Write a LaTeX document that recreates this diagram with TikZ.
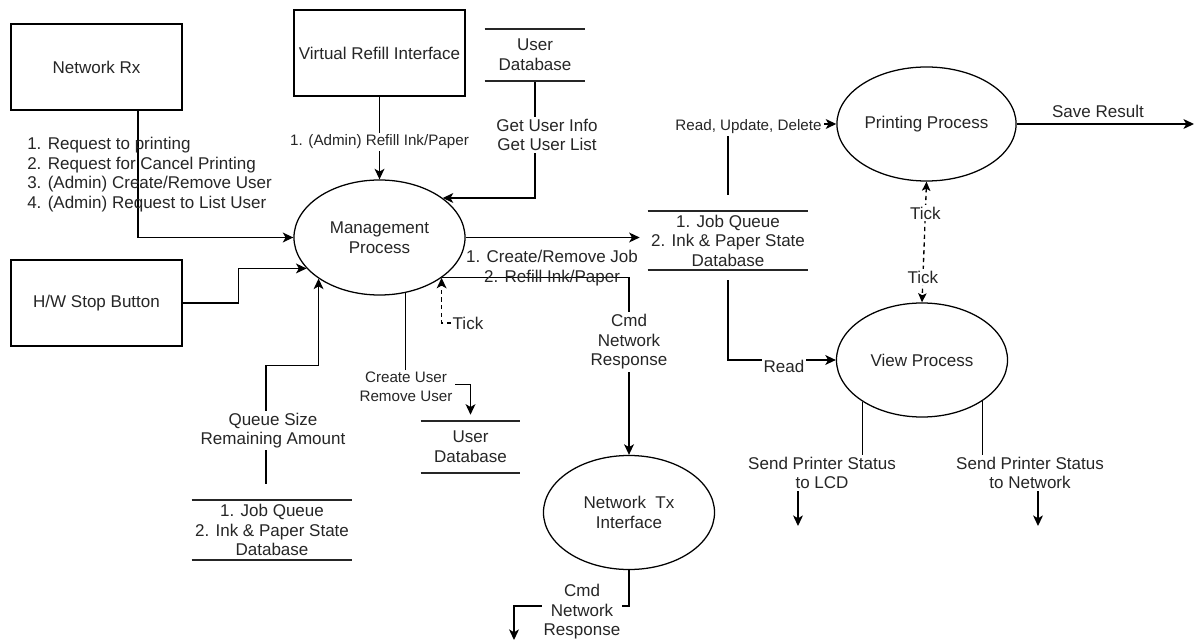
\documentclass[tikz,border=0pt]{standalone}
\usepackage{fontspec}
\setmainfont{Liberation Sans}
\usetikzlibrary{arrows.meta,shapes.geometric,calc,backgrounds}

\begin{document}
\begin{tikzpicture}[
  x=0.025cm, y=-0.025cm,
  txt/.style={font=\fontsize{12.1}{13.9}\selectfont, text=black!85},
  small/.style={font=\fontsize{10.8}{13.7}\selectfont},
  extern/.style={
    rectangle, draw=black, line width=0.9pt, inner xsep=2pt,
    minimum width=4.275cm, minimum height=2.15cm, txt
  },
  proc/.style={
    ellipse, draw=black, line width=0.9pt, inner sep=1pt,
    minimum width=4.275cm, minimum height=2.85cm, align=center, txt
  },
  store/.style={minimum height=1.3cm, inner sep=0pt, align=center, txt},
  dbline/.style={line width=1.7pt, black!85},
  flow/.style={-{Stealth[length=7.5pt,width=7pt,inset=2pt]}, line width=0.95pt},
  tickflow/.style={flow, dash pattern=on 3pt off 2.5pt},
  tickboth/.style={tickflow, {Stealth[length=6.5pt,width=6pt,inset=1.5pt]}-{Stealth[length=6.5pt,width=6pt,inset=1.5pt]}},
  lbl/.style={txt, align=center, inner sep=1.5pt},
  cut/.style={lbl, fill=white}
]

% === External entities ===
\node[extern] (nrx) at (96.5,67) {Network Rx};
\node[extern] (vri) at (379.5,53) {Virtual Refill Interface};
\node[extern] (hw) at (96.5,303) {H/W Stop Button};

% === Processes ===
\node[proc, minimum height=2.875cm] (mgmt) at (379.5,237.5) {Management\\Process};
\node[proc] (pp) at (926.5,124) {Printing Process};
\node[proc] (vp) at (922,360) {View Process};
\node[proc] (ntx) at (629,512.5) {Network~~Tx\\Interface};

% === Data stores ===
\node[store, minimum width=2.5cm] (udb) at (535,55) {User\\Database};
\node[store, minimum width=4cm, minimum height=1.475cm] (jq) at (728,240.5)
  {1. Job Queue\\2. Ink \& Paper State\\Database};
\node[store, minimum width=2.475cm] (udb2) at (470.5,447) {User\\Database};
\node[store, minimum width=4cm, minimum height=1.5cm] (qdb) at (272,530)
  {1. Job Queue\\2. Ink \& Paper State\\Database};

\foreach \s in {udb,jq,udb2,qdb}
  \draw[dbline] (\s.north west) -- (\s.north east) (\s.south west) -- (\s.south east);

% === Flow labels ===
\node[txt, align=left, anchor=west, inner sep=0pt] (rxlbl) at (27,174.5)
  {1. Request to printing\\2. Request for Cancel Printing\\3. (Admin) Create/Remove User\\4. (Admin) Request to List User};
\node[cut, small] (refill) at (379.5,142) {1. (Admin) Refill Ink/Paper};
\node[cut] (getinfo) at (547,135) {Get User Info\\Get User List};
\node[lbl] (jobs) at (552,268) {1. Create/Remove Job\\2. Refill Ink/Paper};
\node[cut] (cmd1) at (629,342) {Cmd\\Network\\Response};
\node[lbl, inner sep=1pt] (tick1) at (468,323) {Tick};
\node[cut, small] (cuser) at (406,387) {Create User\\Remove User};
\node[cut] (qsize) at (273,430.5) {Queue Size\\Remaining Amount};
\node[cut, small] (rud) at (748.5,127) {Read, Update, Delete};
\node[cut] (read) at (784,366) {Read};
\node[lbl] (save) at (1098,111) {Save Result};
\node[lbl] (lcd) at (822,473) {Send Printer Status\\to LCD};
\node[lbl] (netst) at (1030,473) {Send Printer Status\\to Network};
\node[cut] (cmd2) at (582,612) {Cmd\\Network\\Response};

% === Free ends ===
\coordinate (saveout) at (1194,124);
\coordinate (lcdout) at (798,526);
\coordinate (netout) at (1038,526);
\coordinate (cmdout) at (514,640);

% === Flows ===
\begin{scope}[on background layer]
\fill[white] (0,0) rectangle (1195,642);
\draw[flow] ([xshift=1.04cm]nrx.south) |- (mgmt.west);
\draw[flow] (vri.south) -- (mgmt.north);
\draw[flow] (udb.south) |- (mgmt.32);
\draw[flow] (hw.east) -- ++(56,0) |- (mgmt.203);
\draw[flow, shorten <=0.4cm] ([xshift=-0.15cm]qdb.north) -- ++(0,-134) -| (mgmt.214);
\draw[flow, shorten >=0.15cm] (mgmt.295) |- ($(udb2.north)+(0,-36)$) -- (udb2.north);
\draw[flow, shorten >=0.2cm] (mgmt.east) -- (mgmt.east -| jq.west);
\draw[flow] (mgmt.327) -| (ntx.north);
\draw[tickflow] (tick1.west) -| (mgmt.327);
\draw[flow, shorten <=0.4cm] (jq.north) |- (pp.west);
\draw[flow, shorten <=0.25cm] (jq.south) |- (vp.west);
\draw[flow] (pp.east) -- (saveout);
\draw[tickboth] (pp.south) -- (vp.north)
  node[cut, pos=0.26] (tick2) {Tick}
  node[cut, pos=0.79] (tick3) {Tick};
\draw[line width=0.95pt] (vp.215) -- (vp.215 |- lcd.north);
\draw[flow] (lcd.south -| lcdout) -- (lcdout);
\draw[line width=0.95pt] (vp.326) -- (vp.326 |- netst.north);
\draw[flow] (netst.south -| netout) -- (netout);
\draw[flow] (ntx.south) -- ++(0,36) -| (cmdout);
\end{scope}

\useasboundingbox (0,0) rectangle (1195,642);
\end{tikzpicture}
\end{document}
